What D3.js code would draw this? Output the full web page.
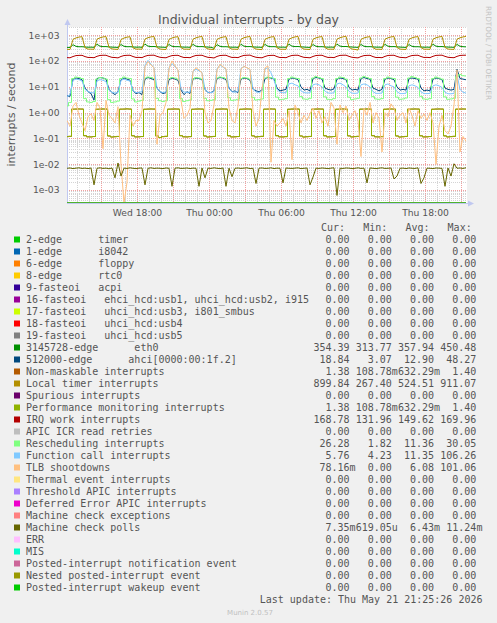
<!DOCTYPE html>
<html><head><meta charset="utf-8">
<script src="https://cdn.jsdelivr.net/npm/d3@7"></script>
<style>
html,body{margin:0;padding:0;background:#f0f0f0;}
svg{display:block;}
text{white-space:pre;}
</style></head><body>
<svg id="c" width="497" height="623"></svg>
<script>
// ---------- DATA ----------
const startTime = new Date(2026, 4, 20, 12, 10);
const endTime = new Date(2026, 4, 21, 21, 30);
const stepMinutes = 15;

const localTimer = [
285,280,690,790,850,880,330,290,
290,285,700,800,860,890,340,295,
288,282,680,780,845,875,325,290,
292,287,710,810,865,895,335,292,
285,280,690,785,850,880,330,288,
290,284,700,800,860,900,340,294,
286,279,685,790,850,885,330,289,
289,283,700,805,860,895,335,291,
284,278,690,790,855,885,328,287,
288,283,700,800,862,905,336,290,
285,280,695,795,855,890,330,287,
290,285,705,805,865,911,340,292,
283,267,690,790,850,880,328,286,
288,282,700,800,860,895,335,290,
286,281,695,795,855,888,332,288,
289,284,700,805,862,900,338,291,
287,282,700,800,860,900];

const eth0 = [
340,336,430,372,358,360,350,344,
346,341,445,378,362,364,353,347,
343,338,436,374,359,361,351,345,
348,342,450.48,380,363,366,355,349,
344,339,438,375,360,362,352,346,
347,341,442,377,361,364,354,348,
342,313.77,432,373,358,360,350,344,
346,340,444,378,362,365,353,347,
345,339,440,376,360,362,352,346,
347,342,446,379,363,366,355,349,
343,338,436,374,359,361,351,345,
348,343,448,380,364,367,356,350,
344,339,438,375,360,362,352,346,
346,341,442,377,361,364,354,348,
343,338,435,373,358,360,350,344,
347,342,445,378,362,365,354,348,
345,340,440,376,360,354.39];

const irqWork = [
136,134,150,163,166,167,149,138,
138,135,153,165,168,168,151,139,
137,133,151,164,167,168,150,138,
139,136,154,166,168,169,152,140,
136,134,150,163,166,167,149,137,
138,135,152,165,167,168,151,139,
137,131.96,151,164,167,168,150,138,
139,136,153,166,168,169.96,152,140,
136,134,150,163,166,167,149,137,
138,135,152,165,168,168,151,139,
137,134,151,164,167,168,150,138,
139,136,153,166,168,169,152,140,
136,133,150,163,166,167,149,137,
138,135,152,165,167,168,151,139,
137,134,151,164,167,168,150,138,
139,136,153,166,168,169,152,140,
137,135,152,165,168,168.78];

const ahci = [
4.5,4.3,20,22,21,19,9,6.5,
5.5,3.07,21,23,22,20,8,6,
5,6.5,19,22,20,18,7,5.5,
6,5,20,23,21,19,9,6.5,
5.5,6,19,22,20,18,7.5,5,
6.5,5.5,20,22,21,19,8,6,
6,7,21,23,22,19,9,6.5,
7,6,20,22,21,18,8,7,
6.5,7.5,21,23,22,20,9,7,
7.5,8,20,22,21,19,10,7.5,
8,7,21,23,22,20,9,8,
7.5,8.5,20,22,21,19,9.5,7.5,
8,7.5,21,23,21,20,9,8,
7,8,20,22,21,19,10,7.5,
8,7.5,21,22,21,20,9,7,
7.5,7,20,22,21,19,9,8,
7.5,8,48.27,21,20,18.84];

const resched = [
1.82,2.5,21,24,23,21,3.5,2.6,
2.5,2.7,20,23,22,20,3.2,2.5,
2.6,2.8,21,24,22,21,3.4,2.6,
2.8,3.0,22,24,23,21,3.6,2.9,
2.7,2.9,21,23,22,20,3.5,2.7,
2.9,3.1,20,23,22,20,3.6,2.9,
3.0,3.2,22,24,23,21,3.8,3.0,
3.1,3.3,21,23,22,20,3.9,3.1,
3.2,3.4,22,24,23,21,4.0,3.2,
3.3,3.5,21,24,22,21,4.2,3.4,
3.3,3.6,22,25,23,21,4.1,3.3,
3.2,3.5,21,24,23,20,4.0,3.2,
3.4,3.6,22,25,23,21,4.2,3.4,
3.3,3.5,21,24,22,21,4.0,3.3,
3.4,3.7,22,25,23,21,4.3,3.4,
3.3,3.5,21,24,22,20,4.1,3.3,
3.4,3.6,25,30.05,27,26.28];

const funcCall = [
4.23,5.0,18,20,19,17,8,6.5,
6.0,5.8,17,19,18,16,7.5,6.2,
5.8,6.0,18,20,18,17,7.0,6.0,
6.2,6.5,70,106.26,75,55,9,6.5,
6.0,6.4,55,80,60,45,8.5,6.3,
6.1,6.3,40,48,42,36,8,6.2,
6.0,6.5,50,70,58,48,8.5,6.4,
6.2,6.6,52,62,55,46,8.2,6.3,
6.1,6.8,50,55,35,18,8,6.2,
5.9,6.0,13,14,12,11,7,6.0,
5.8,5.9,12,13,12,10,6.8,5.8,
5.7,5.9,13,14,12,10,6.7,5.7,
5.6,5.8,12,13,12,10,6.5,5.6,
5.6,5.8,12,13,11,10,6.5,5.5,
5.5,5.7,11,12,11,9.5,6.4,5.5,
5.5,5.6,11,12,11,9.5,6.2,5.4,
5.4,5.6,30,8,6.2,5.76];

const tlb = [
0.5,0.3,1.8,2.5,0.8,0.4,0.2,0.7,
0.9,0.5,2.5,1.5,0.04,3.0,0.8,0.6,
0.4,1.7,0.01,0,0.002,0.8,0.3,0.5,
0.5,1.2,60,95,70,55,0.06,0.8,
1.0,2.5,50,101.06,65,45,3,0.6,
0.8,1.5,40,55,45,35,1.0,0.4,
0.5,2,45,75,60,50,1.5,0.5,
0.4,1.8,50,62,55,48,1.2,0.3,
0.6,8,55,65,0.012,0.5,0.3,0.4,
0.6,0.3,1.2,0.015,2.0,1.0,0.4,0.8,
0.5,0.9,1.5,0.6,1.2,0.4,0.7,0.3,
2.5,1.5,0.06,2.0,1.0,1.8,0.5,0.8,
1.2,0.5,0.02,1.5,0.8,2.5,0.4,1.0,
0.6,0.03,1.0,0.7,2.2,1.5,0.5,0.8,
1.0,0.4,1.5,0.8,0.3,1.2,0.6,0.9,
0.5,1.0,0.4,0.01,0.3,0.8,0.2,0.15,
0.3,2,46,0.03,0.12,0.078];

const perfMon = [
0.118,0.121,1.37,1.38,1.39,1.38,0.128,0.116,
0.115,0.119,1.36,1.38,1.39,1.38,0.125,0.114,
0.117,0.120,1.37,1.38,1.40,1.38,0.127,0.115,
0.116,0.119,1.36,1.38,1.39,1.38,0.126,0.1088,
0.118,0.121,1.37,1.38,1.39,1.38,0.128,0.116,
0.115,0.118,1.36,1.38,1.39,1.38,0.125,0.114,
0.117,0.120,1.37,1.38,1.39,1.38,0.127,0.115,
0.116,0.119,1.36,1.38,1.39,1.38,0.126,0.115,
0.118,0.121,1.37,1.38,1.39,1.38,0.128,0.116,
0.115,0.118,1.36,1.38,1.39,1.38,0.125,0.114,
0.117,0.120,1.37,1.38,1.39,1.38,0.127,0.115,
0.116,0.119,1.36,1.38,1.39,1.38,0.126,0.115,
0.118,0.121,1.37,1.38,1.39,1.38,0.128,0.116,
0.115,0.118,1.36,1.38,1.39,1.38,0.125,0.114,
0.117,0.120,1.37,1.38,1.39,1.38,0.127,0.115,
0.116,0.119,1.36,1.38,1.39,1.38,0.126,0.115,
0.118,0.121,1.37,1.38,1.39,1.38];

const mcPolls = [
0.0070,0.0072,0.0068,0.0071,0.0073,0.0069,0.0071,0.0068,
0.0072,0.0016,0.0070,0.0073,0.0069,0.0071,0.0067,0.0072,
0.0030,0.01124,0.0035,0.0071,0.0069,0.0073,0.0070,0.0068,
0.0071,0.0072,0.0016,0.0070,0.0073,0.0069,0.0071,0.0070,
0.0068,0.0072,0.0070,0.0014,0.0071,0.0073,0.0069,0.0070,
0.0072,0.0068,0.0071,0.0070,0.0014,0.0072,0.0030,0.0071,
0.0069,0.0073,0.0070,0.0068,0.0072,0.0014,0.0071,0.0033,
0.0070,0.0072,0.0069,0.0071,0.0073,0.0068,0.0070,0.0018,
0.0071,0.0072,0.0069,0.0070,0.0073,0.0068,0.0071,0.0070,
0.0019,0.0072,0.0070,0.0069,0.0071,0.0073,0.0068,0.0070,
0.0072,0.0016,0.0032,0.0071,0.0069,0.0072,0.0070,0.0068,
0.0071,0.0073,0.000619,0.0070,0.0069,0.0072,0.0071,0.0068,
0.0070,0.0073,0.0069,0.0071,0.0019,0.0072,0.0070,0.0068,
0.0071,0.0073,0.0069,0.0070,0.0072,0.0027,0.0035,0.0070,
0.0071,0.0068,0.0072,0.0070,0.0069,0.0073,0.0018,0.0030,
0.0071,0.0070,0.0068,0.0072,0.0071,0.0069,0.0014,0.0072,
0.0035,0.0105,0.0070,0.0072,0.0069,0.00735];

const zeroVals = new Array(localTimer.length).fill(0);

const legendLabels = [
"2-edge      timer","1-edge      i8042","6-edge      floppy","8-edge      rtc0",
"9-fasteoi   acpi","16-fasteoi   ehci_hcd:usb1, uhci_hcd:usb2, i915",
"17-fasteoi   uhci_hcd:usb3, i801_smbus","18-fasteoi   uhci_hcd:usb4",
"19-fasteoi   uhci_hcd:usb5","3145728-edge      eth0","512000-edge      ahci[0000:00:1f.2]",
"Non-maskable interrupts","Local timer interrupts","Spurious interrupts",
"Performance monitoring interrupts","IRQ work interrupts","APIC ICR read retries",
"Rescheduling interrupts","Function call interrupts","TLB shootdowns",
"Thermal event interrupts","Threshold APIC interrupts","Deferred Error APIC interrupts",
"Machine check exceptions","Machine check polls","ERR","MIS",
"Posted-interrupt notification event","Nested posted-interrupt event","Posted-interrupt wakeup event"];

const legendColors = [
"#00CC00","#0066B3","#FF8000","#FFCC00","#330099","#990099","#CCFF00","#FF0000","#808080",
"#008F00","#00487D","#B35A00","#B38F00","#6B006B","#8FB300","#B30000","#BEBEBE","#80FF80",
"#80C9FF","#FFC080","#FFE680","#AA80FF","#EE00CC","#FF8080","#666600","#FFBFFF","#00FFCC",
"#CC6699","#999900","#00CC00"];

const curVals = ["0.00","0.00","0.00","0.00","0.00","0.00","0.00","0.00","0.00","354.39","18.84","1.38","899.84","0.00","1.38","168.78","0.00","26.28","5.76","78.16m","0.00","0.00","0.00","0.00","7.35m","0.00","0.00","0.00","0.00","0.00"];
const minVals = ["0.00","0.00","0.00","0.00","0.00","0.00","0.00","0.00","0.00","313.77","3.07","108.78m","267.40","0.00","108.78m","131.96","0.00","1.82","4.23","0.00","0.00","0.00","0.00","0.00","619.05u","0.00","0.00","0.00","0.00","0.00"];
const avgVals = ["0.00","0.00","0.00","0.00","0.00","0.00","0.00","0.00","0.00","357.94","12.90","632.29m","524.51","0.00","632.29m","149.62","0.00","11.36","11.35","6.08","0.00","0.00","0.00","0.00","6.43m","0.00","0.00","0.00","0.00","0.00"];
const maxVals = ["0.00","0.00","0.00","0.00","0.00","0.00","0.00","0.00","0.00","450.48","48.27","1.40","911.07","0.00","1.40","169.96","0.00","30.05","106.26","101.06","0.00","0.00","0.00","0.00","11.24m","0.00","0.00","0.00","0.00","0.00"];
const columnHeaders = ["Cur:","Min:","Avg:","Max:"];

const yTickValues = [1e3,1e2,1e1,1e0,1e-1,1e-2,1e-3];
const yTickLabels = ["1e+03","1e+02","1e+01","1e+00","1e-01","1e-02","1e-03"];

const seriesValues = [
zeroVals,zeroVals,zeroVals,zeroVals,zeroVals,zeroVals,zeroVals,zeroVals,zeroVals,
eth0,ahci,perfMon,localTimer,zeroVals,perfMon,irqWork,zeroVals,resched,funcCall,tlb,
zeroVals,zeroVals,zeroVals,zeroVals,mcPolls,zeroVals,zeroVals,zeroVals,zeroVals,zeroVals];
// square-wave series drawn with steps (NMI, perf monitoring, rescheduling)
const steppedSeries = [11,14,17];

// ---------- DRAWING ----------
const svg = d3.select("#c");
const L = 67, R = 467, T = 27, B = 203;
const yMin = Math.pow(10,-3.5), yMax = Math.pow(10,3.32);

svg.append("rect").attr("width",497).attr("height",623).attr("fill","#f0f0f0");
svg.append("rect").attr("x",L).attr("y",T).attr("width",R-L).attr("height",B-T).attr("fill","#ffffff");

const x = d3.scaleTime().domain([startTime,endTime]).range([L,R]);
const y = d3.scaleLog().domain([yMin,yMax]).range([B,T]).clamp(true);

const grid = svg.append("g").attr("shape-rendering","crispEdges");
for (let e=-4; e<=3; e++) for (let m=2; m<=9; m++) {
  const v = m*Math.pow(10,e);
  if (v<yMin || v>yMax) continue;
  grid.append("line").attr("x1",L).attr("x2",R).attr("y1",Math.round(y(v))+0.5).attr("y2",Math.round(y(v))+0.5)
    .attr("stroke","#d4d4d4").attr("stroke-dasharray","1,1");
}
x.ticks(d3.timeHour.every(1)).forEach(t=>{
  const xx = Math.round(x(t))+0.5;
  grid.append("line").attr("x1",xx).attr("x2",xx).attr("y1",T).attr("y2",B)
    .attr("stroke","#d4d4d4").attr("stroke-dasharray","1,1");
});
x.ticks(d3.timeHour.every(3)).forEach(t=>{
  const xx = Math.round(x(t))+0.5;
  grid.append("line").attr("x1",xx).attr("x2",xx).attr("y1",T).attr("y2",B)
    .attr("stroke","#f0a0a0").attr("stroke-dasharray","1,1");
});
yTickValues.forEach(v=>{
  const yy = Math.round(y(v))+0.5;
  grid.append("line").attr("x1",L).attr("x2",R).attr("y1",yy).attr("y2",yy)
    .attr("stroke","#f0a0a0").attr("stroke-dasharray","1,1");
});

const axisColor = "#c0c8f0";
svg.append("line").attr("x1",L+0.5).attr("x2",L+0.5).attr("y1",B+0.5).attr("y2",23).attr("stroke",axisColor);
svg.append("path").attr("d",`M${L-2.5},25 L${L+3.5},25 L${L+0.5},19 Z`).attr("fill",axisColor);
svg.append("line").attr("x1",L).attr("x2",470).attr("y1",B+0.5).attr("y2",B+0.5).attr("stroke",axisColor);
svg.append("path").attr("d",`M468,${B-2.5} L468,${B+3.5} L474,${B+0.5} Z`).attr("fill",axisColor);

svg.append("clipPath").attr("id","pc").append("rect").attr("x",L).attr("y",T).attr("width",R-L+1).attr("height",B-T);
const sg = svg.append("g").attr("clip-path","url(#pc)");
const xAt = (d,i)=>x(d3.timeMinute.offset(startTime, i*stepMinutes));
const yAt = d=>y(Math.max(d,yMin));
const line = d3.line().x(xAt).y(yAt);
const stepLine = d3.line().x(xAt).y(yAt).curve(d3.curveStep);
seriesValues.forEach((vals,i)=>{
  const gen = steppedSeries.includes(i) ? stepLine : line;
  sg.append("path").attr("d",gen(vals)).attr("fill","none")
    .attr("stroke",legendColors[i]).attr("stroke-width",1).attr("stroke-linejoin","round");
});

yTickValues.forEach((v,i)=>{
  svg.append("text").attr("x",59.5).attr("y",y(v)+3.3).attr("text-anchor","end")
    .attr("font-family","DejaVu Sans").attr("font-size","9.2px").attr("fill","#555")
    .text(yTickLabels[i]);
});
const xfmt = d3.timeFormat("%a %H:%M");
x.ticks(d3.timeHour.every(6)).forEach(t=>{
  svg.append("text").attr("x",x(t)+0.5).attr("y",216).attr("text-anchor","middle")
    .attr("font-family","DejaVu Sans").attr("font-size","9.2px").attr("fill","#555")
    .text(xfmt(t));
});

svg.append("text").attr("x",248.5).attr("y",24).attr("text-anchor","middle")
  .attr("font-family","DejaVu Sans").attr("font-size","12.5px").attr("fill","#555")
  .text("Individual interrupts - by day");
svg.append("text").attr("transform","translate(15,114.5) rotate(-90)").attr("text-anchor","middle")
  .attr("font-family","DejaVu Sans").attr("font-size","11px").attr("fill","#555")
  .text("interrupts / second");
svg.append("text").attr("transform","translate(486,53) rotate(90)").attr("text-anchor","middle")
  .attr("font-family","DejaVu Sans").attr("font-size","7.3px").attr("fill","#c4c4c4")
  .text("RRDTOOL / TOBI OETIKER");

const mono = "DejaVu Sans Mono";
const lg = svg.append("g").attr("font-family",mono).attr("font-size","10px").attr("fill","#555");
const colRight = [349.5,391.8,434.1,476.4];
columnHeaders.forEach((h,j)=>{
  lg.append("text").attr("x",321+42.2*j).attr("y",231).text(h);
});
const allCols = [curVals,minVals,avgVals,maxVals];
legendLabels.forEach((lab,i)=>{
  const by = 243 + 12*i;
  lg.append("rect").attr("x",14).attr("y",by-6.5).attr("width",6).attr("height",6).attr("fill",legendColors[i]);
  lg.append("text").attr("x",26).attr("y",by).text(lab);
  allCols.forEach((col,j)=>{
    const s = col[i];
    const last = s[s.length-1];
    const hasSuffix = /[a-zA-Z]/.test(last);
    const num = hasSuffix ? s.slice(0,-1) : s;
    lg.append("text").attr("x",colRight[j]).attr("y",by).attr("text-anchor","end").text(num);
    if (hasSuffix) lg.append("text").attr("x",colRight[j]).attr("y",by).text(last);
  });
});
lg.append("text").attr("x",482.5).attr("y",603).attr("text-anchor","end")
  .text("Last update: Thu May 21 21:25:26 2026");
svg.append("text").attr("x",250).attr("y",615).attr("text-anchor","middle")
  .attr("font-family","DejaVu Sans").attr("font-size","7px").attr("fill","#c0c0c0")
  .text("Munin 2.0.57");
</script></body></html>
